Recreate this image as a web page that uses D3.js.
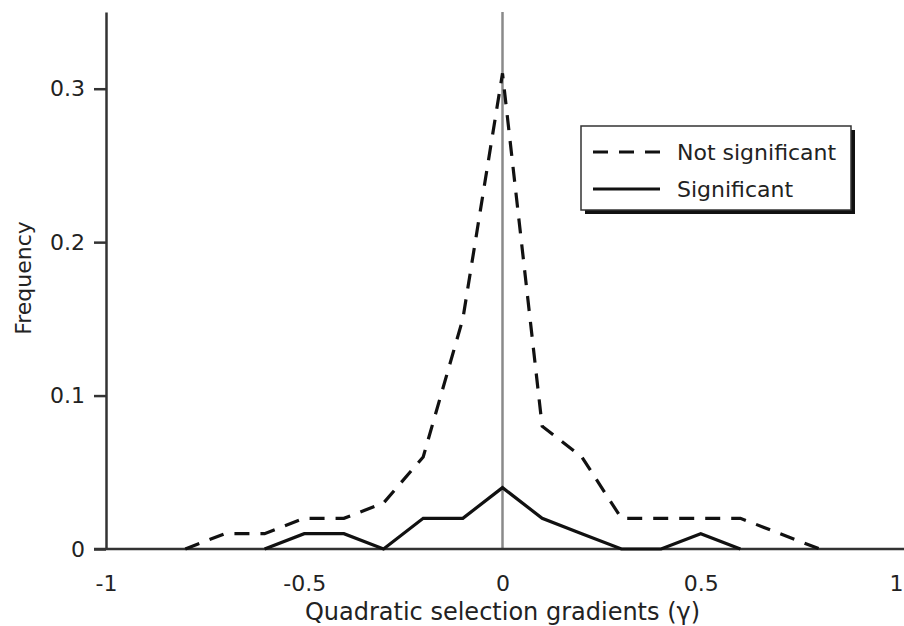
<!DOCTYPE html>
<html>
<head>
<meta charset="utf-8">
<script src="https://cdn.jsdelivr.net/npm/d3@7"></script>
<style>
  html, body { margin: 0; padding: 0; background: #fff; }
  svg { display: block; font-family: "DejaVu Sans", sans-serif; }
</style>
</head>
<body>
<svg id="chart" width="904" height="626"></svg>
<script>
// Frequency distributions of quadratic selection gradients
const gammaNotSig = [-0.8, -0.7, -0.6, -0.5, -0.4, -0.3, -0.2, -0.1, 0, 0.1, 0.2, 0.3, 0.4, 0.5, 0.6, 0.7, 0.8];
const freqNotSig  = [0, 0.01, 0.01, 0.02, 0.02, 0.03, 0.06, 0.15, 0.31, 0.08, 0.06, 0.02, 0.02, 0.02, 0.02, 0.01, 0];

const gammaSig = [-0.6, -0.5, -0.4, -0.3, -0.2, -0.1, 0, 0.1, 0.2, 0.3, 0.4, 0.5, 0.6];
const freqSig  = [0, 0.01, 0.01, 0, 0.02, 0.02, 0.04, 0.02, 0.01, 0, 0, 0.01, 0];

const xTicks = [-1, -0.5, 0, 0.5, 1];
const xTickLabels = ["-1", "-0.5", "0", "0.5", "1"];
const yTicks = [0, 0.1, 0.2, 0.3];
const yTickLabels = ["0", "0.1", "0.2", "0.3"];

const legendLabels = ["Not significant", "Significant"];
const xTitle = "Quadratic selection gradients (\u03b3)";
const yTitle = "Frequency";

const svg = d3.select("#chart");

const x = d3.scaleLinear().domain([-1, 1]).range([106, 899]);
const y = d3.scaleLinear().domain([0, 0.35]).range([549, 12]);

const axisColor = "#333";

// zero reference line
svg.append("line")
  .attr("x1", x(0)).attr("x2", x(0))
  .attr("y1", y(0.35)).attr("y2", y(0))
  .attr("stroke", "#8a8a8a").attr("stroke-width", 2.5);

// y axis
const yAxis = d3.axisLeft(y)
  .tickValues(yTicks)
  .tickFormat((d, i) => yTickLabels[i])
  .tickSize(12)
  .tickPadding(9)
  .tickSizeOuter(0);
const gy = svg.append("g").attr("transform", `translate(${x(-1)},0)`).call(yAxis);
gy.select(".domain").attr("stroke", axisColor).attr("stroke-width", 2.5);
gy.selectAll(".tick line").attr("stroke", axisColor).attr("stroke-width", 2.5);
gy.selectAll(".tick text").attr("fill", "#222").style("font-size", "22px")
  .style("font-family", "'DejaVu Sans', sans-serif");

// x axis (no tick marks)
const xAxis = d3.axisBottom(x)
  .tickValues(xTicks)
  .tickFormat((d, i) => xTickLabels[i])
  .tickSize(0)
  .tickPadding(26)
  .tickSizeOuter(0);
const gx = svg.append("g").attr("transform", `translate(0,${y(0)})`).call(xAxis);
gx.select(".domain").remove();
gx.selectAll(".tick text").attr("fill", "#222").style("font-size", "22px")
  .style("font-family", "'DejaVu Sans', sans-serif");
// keep the last label inside the right edge
gx.selectAll(".tick text").filter(d => d === 1)
  .attr("text-anchor", "end").attr("x", 4);
svg.append("line")
  .attr("x1", x(-1) - 12).attr("x2", 904)
  .attr("y1", y(0)).attr("y2", y(0))
  .attr("stroke", axisColor).attr("stroke-width", 2.5);

// series lines
const line = d3.line().x(d => x(d[0])).y(d => y(d[1]));

svg.append("path")
  .datum(d3.zip(gammaNotSig, freqNotSig))
  .attr("d", line)
  .attr("fill", "none").attr("stroke", "#111").attr("stroke-width", 3.2)
  .attr("stroke-dasharray", "15,11");

svg.append("path")
  .datum(d3.zip(gammaSig, freqSig))
  .attr("d", line)
  .attr("fill", "none").attr("stroke", "#111").attr("stroke-width", 3.2)
  .attr("stroke-linejoin", "miter");

// axis titles
svg.append("text")
  .attr("x", x(0)).attr("y", 620)
  .attr("text-anchor", "middle")
  .attr("fill", "#222").style("font-size", "24px")
  .text(xTitle);

svg.append("text")
  .attr("transform", `translate(31,278) rotate(-90)`)
  .attr("text-anchor", "middle")
  .attr("fill", "#222").style("font-size", "22px")
  .text(yTitle);

// legend
const lg = svg.append("g");
lg.append("rect")
  .attr("x", 585).attr("y", 130).attr("width", 270).attr("height", 84)
  .attr("fill", "#111");
lg.append("rect")
  .attr("x", 581).attr("y", 126).attr("width", 270).attr("height", 84)
  .attr("fill", "#fff").attr("stroke", "#333").attr("stroke-width", 1.5);

const legendRows = lg.selectAll("g.row")
  .data(legendLabels)
  .join("g").attr("class", "row")
  .attr("transform", (d, i) => `translate(593,${152 + i * 37})`);
legendRows.append("line")
  .attr("x1", 0).attr("x2", 67)
  .attr("stroke", "#111").attr("stroke-width", 3)
  .attr("stroke-dasharray", (d, i) => i === 0 ? "15,11" : null);
legendRows.append("text")
  .attr("x", 84).attr("y", 8)
  .attr("fill", "#222").style("font-size", "22px")
  .text(d => d);
</script>
</body>
</html>
